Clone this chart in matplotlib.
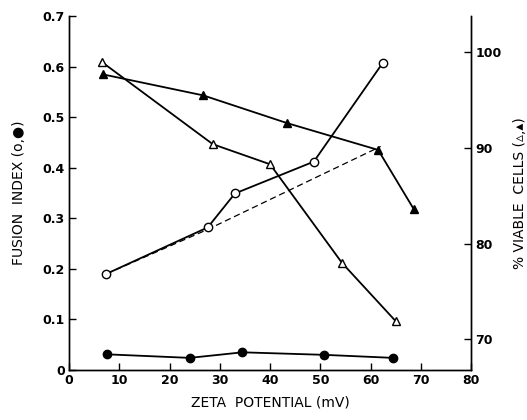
import matplotlib
matplotlib.use("Agg")
import matplotlib.pyplot as plt

# zeta potential (mV) for each series
zeta_open = [7.4, 27.6, 33.0, 48.7, 62.4]
fusion_open = [0.19, 0.282, 0.349, 0.412, 0.607]

zeta_filled = [7.6, 24.0, 34.5, 50.8, 64.5]
fusion_filled = [0.031, 0.024, 0.035, 0.030, 0.024]

zeta_fit = [7.4, 27.6, 51.9, 62.0]
fusion_fit = [0.19, 0.278, 0.394, 0.442]

zeta_tri_open = [6.5, 28.6, 40.0, 54.3, 65.0]
viable_open = [99.0, 90.4, 88.3, 78.0, 71.9]

zeta_tri_filled = [6.7, 26.7, 43.4, 61.5, 68.6]
viable_filled = [97.7, 95.5, 92.6, 89.8, 83.6]

xticks = [0, 10, 20, 30, 40, 50, 60, 70, 80]
left_ticks = [0, 0.1, 0.2, 0.3, 0.4, 0.5, 0.6, 0.7]
left_labels = ["0", "0.1", "0.2", "0.3", "0.4", "0.5", "0.6", "0.7"]
right_ticks = [70, 80, 90, 100]

tick_font = dict(family=["DejaVu Sans"], weight="bold", size=9)
label_font = dict(family=["DejaVu Sans"], size=10, weight="normal")

fig = plt.figure(figsize=(5.27, 4.2), dpi=100)
ax = fig.add_axes([0.131, 0.119, 0.763, 0.843])
ax2 = ax.twinx()

lw = 1.3
ax.plot(zeta_open, fusion_open, color="black", lw=lw, marker="o", ms=6,
        mfc="white", mec="black", mew=1.0, clip_on=False, zorder=3)
ax.plot(zeta_filled, fusion_filled, color="black", lw=lw, marker="o", ms=6,
        mfc="black", mec="black", clip_on=False, zorder=3)
ax.plot(zeta_fit, fusion_fit, color="black", lw=0.9, ls=(0, (5, 3)), zorder=2)

ax2.plot(zeta_tri_open, viable_open, color="black", lw=lw, marker="^", ms=6,
         mfc="white", mec="black", mew=1.0, clip_on=False, zorder=3)
ax2.plot(zeta_tri_filled, viable_filled, color="black", lw=lw, marker="^", ms=6,
         mfc="black", mec="black", clip_on=False, zorder=3)

ax.set_xlim(0, 80)
ax.set_ylim(0, 0.7)
ax2.set_ylim(66.8, 103.8)

ax.set_xticks(xticks)
ax.set_xticklabels([str(t) for t in xticks], fontdict=tick_font)
ax.set_yticks(left_ticks)
ax.set_yticklabels(left_labels, fontdict=tick_font)
ax2.set_yticks(right_ticks)
ax2.set_yticklabels([str(t) for t in right_ticks], fontdict=tick_font)

for a in (ax, ax2):
    a.spines["top"].set_visible(False)
    a.tick_params(direction="in", length=5, width=1.0, pad=3)
for s in ("left", "bottom", "right"):
    ax.spines[s].set_linewidth(1.0)
    ax2.spines[s].set_linewidth(1.0)

ax.set_xlabel("ZETA  POTENTIAL (mV)", fontdict=label_font, labelpad=6)
ax.set_ylabel("FUSION  INDEX (o,●)", fontdict=label_font, labelpad=12)
ax2.set_ylabel("% VIABLE  CELLS (▵,▴)", fontdict=label_font, labelpad=8)

fig.savefig("out.png", dpi=100)
